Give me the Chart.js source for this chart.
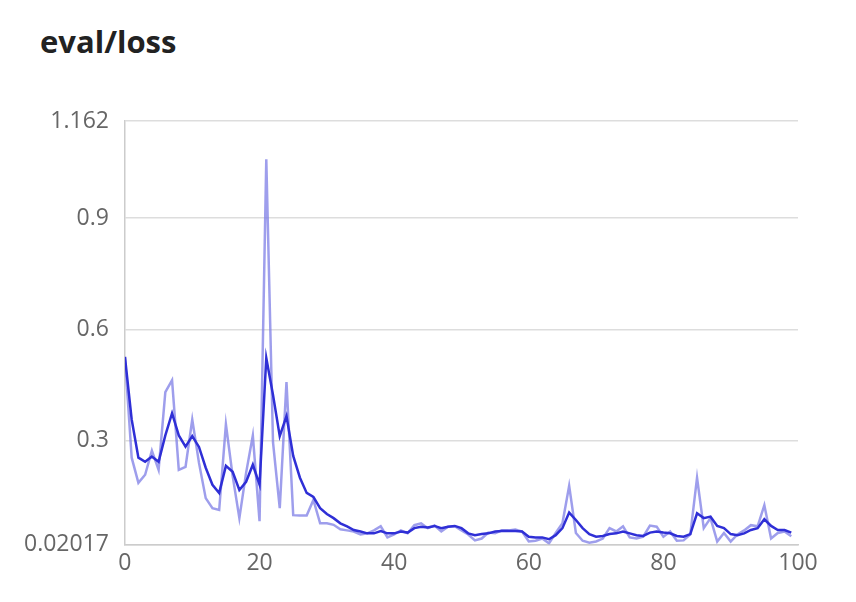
<!DOCTYPE html>
<html><head><meta charset="utf-8">
<script src="https://cdn.jsdelivr.net/npm/chart.js@4"></script>
<style>html,body{margin:0;padding:0;background:#fff}#t{position:absolute;left:40px;top:20px;font:bold 31px "Open Sans",sans-serif;color:#222}#w{position:absolute;left:0;top:0;width:856px;height:602px}</style>
</head><body>
<div id="t">eval/loss</div>
<div id="w"><canvas id="c"></canvas></div>
<script>
const steps = Array.from({length:100},(_,i)=>i);
const rawLoss = [0.526,0.254,0.186,0.208,0.273,0.221,0.431,0.463,0.221,0.229,0.357,0.240,0.145,0.118,0.113,0.344,0.205,0.091,0.213,0.314,0.083,1.059,0.295,0.118,0.458,0.099,0.098,0.098,0.140,0.077,0.077,0.073,0.061,0.058,0.055,0.047,0.050,0.058,0.069,0.039,0.047,0.058,0.050,0.072,0.077,0.064,0.071,0.055,0.068,0.069,0.058,0.047,0.031,0.036,0.052,0.050,0.058,0.058,0.060,0.055,0.028,0.030,0.036,0.023,0.051,0.077,0.178,0.051,0.030,0.025,0.028,0.036,0.064,0.055,0.069,0.039,0.036,0.041,0.071,0.068,0.041,0.055,0.030,0.031,0.047,0.200,0.064,0.091,0.028,0.051,0.028,0.047,0.058,0.072,0.069,0.126,0.036,0.051,0.055,0.042];
const smoothLoss = [0.526,0.357,0.254,0.243,0.257,0.243,0.314,0.374,0.314,0.284,0.312,0.283,0.227,0.181,0.159,0.232,0.216,0.167,0.189,0.235,0.181,0.523,0.423,0.312,0.366,0.259,0.200,0.159,0.148,0.118,0.102,0.091,0.077,0.069,0.059,0.055,0.050,0.050,0.056,0.050,0.050,0.055,0.052,0.064,0.068,0.066,0.070,0.064,0.068,0.070,0.064,0.050,0.045,0.048,0.050,0.055,0.056,0.056,0.056,0.055,0.041,0.039,0.039,0.034,0.045,0.064,0.106,0.086,0.064,0.048,0.041,0.043,0.048,0.050,0.055,0.050,0.045,0.043,0.052,0.055,0.052,0.050,0.043,0.041,0.048,0.104,0.091,0.095,0.070,0.064,0.048,0.045,0.050,0.059,0.064,0.088,0.070,0.059,0.059,0.052];
const yTicks = [0.02017,0.3,0.6,0.9,1.162];
const xTicks = [0,20,40,60,80,100];
const toXY = a => a.map((v,i)=>({x:steps[i],y:v}));
new Chart(document.getElementById('c'),{
type:'line',
data:{datasets:[
{data:toXY(smoothLoss),borderColor:'#2f2fd6',borderWidth:2.5,pointRadius:0,tension:0},
{data:toXY(rawLoss),borderColor:'rgba(125,125,230,0.75)',borderWidth:2.5,pointRadius:0,tension:0}
]},
options:{responsive:true,maintainAspectRatio:false,animation:false,
layout:{padding:{top:121,left:8,right:58,bottom:20}},
plugins:{legend:{display:false},tooltip:{enabled:false}},
scales:{
x:{type:'linear',min:0,max:100,afterBuildTicks:s=>{s.ticks=xTicks.map(v=>({value:v}))},
grid:{display:false,drawTicks:false},border:{color:'#ccc',width:1.5},
ticks:{color:'#666',font:{size:23,family:'"Open Sans"'},padding:5}},
y:{min:0.02017,max:1.162,afterBuildTicks:s=>{s.ticks=yTicks.map(v=>({value:v}))},
grid:{color:'#ddd',lineWidth:1.5,drawTicks:false},border:{color:'#ccc',width:1.5},
ticks:{color:'#666',font:{size:23,family:'"Open Sans"'},padding:16,callback:v=>String(v)}}
}}});
</script></body></html>
